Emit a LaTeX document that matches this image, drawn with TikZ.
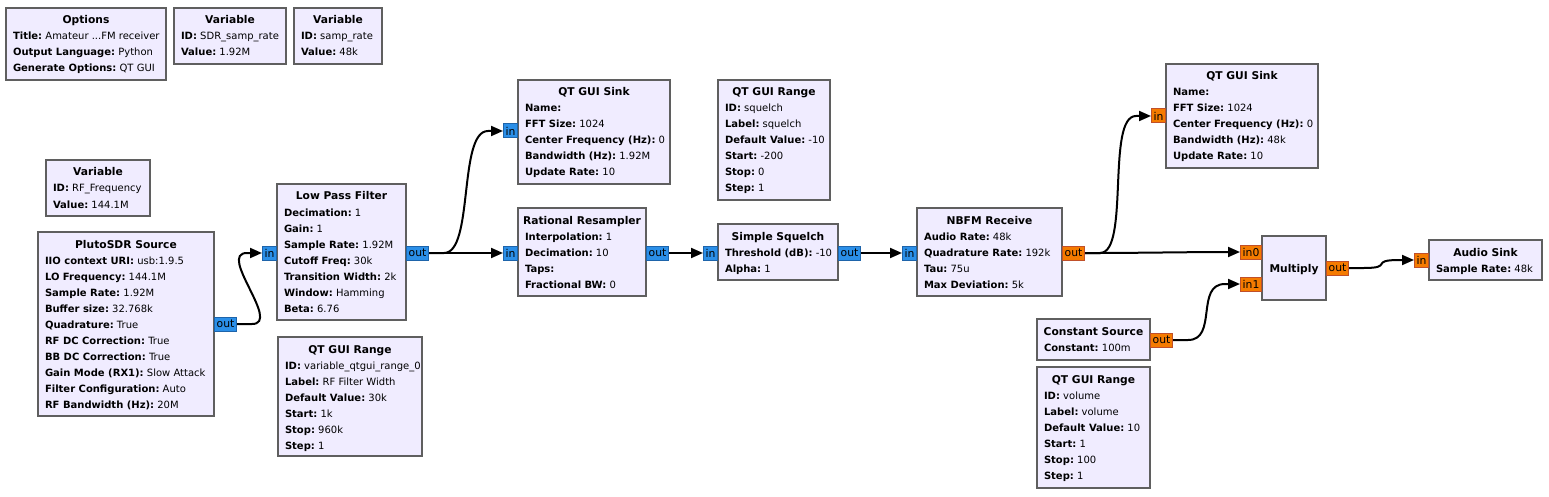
\documentclass[tikz,border=0pt]{standalone}
\usepackage{fontspec}
\setmainfont{DejaVu Sans}
\usetikzlibrary{arrows.meta,calc}
\definecolor{blkfill}{HTML}{F0ECFF}
\definecolor{blkdraw}{HTML}{5F5F5F}
\definecolor{cfill}{HTML}{2B8FE8}
\definecolor{cdraw}{HTML}{1E64AA}
\definecolor{ffill}{HTML}{F57B00}
\definecolor{fdraw}{HTML}{C0502A}
\newcommand\grcfont{\fontsize{10}{16}\selectfont\frenchspacing}
\newcommand\grcportfont{\fontsize{10.8}{16}\selectfont}
\newcommand\grctitlefont{\fontsize{10.7}{16}\selectfont\bfseries\frenchspacing}
\tikzset{
  blk/.style={draw=blkdraw, fill=blkfill, line width=2pt, rectangle, inner sep=0pt, outer sep=0pt},
  txt/.style={inner sep=0pt, outer sep=0pt, font=\grcfont},
  ttl/.style={inner sep=0pt, outer sep=0pt, font=\grctitlefont},
  cport/.style={draw=cdraw, fill=cfill, line width=1pt, inner sep=0pt, minimum height=14pt, font=\grcportfont},
  fport/.style={draw=fdraw, fill=ffill, line width=1pt, inner sep=0pt, minimum height=14pt, font=\grcportfont},
  wire/.style={line width=2pt, -{Triangle[length=12pt,width=10pt]}},
}
% name, x1, y1, x2, y2, title, lines
\newcommand\grcblock[7]{%
  \node[blk, anchor=north west, minimum width={#4-#2}, minimum height={#5-#3}] (#1) at (#2,#3) {};
  \node[ttl, anchor=base] (#1-title) at ({(#2+#4)/2},{#3+16}) {#6};
  \foreach \lab/\val [count=\i] in {#7} {
    \node[txt, anchor=base west] (#1-\i) at ({#2+7},{#3+16+16*\i}) {\textbf{\lab:} \val};
  }%
}
\newcommand\grcwire[2]{%
  \draw[wire] (#1.east) -- ($(#1.east)+(15,0)$)
    .. controls ($(#1.east)+(45,0)$) and ($(#2.west)+(-45,0)$) ..
    ($(#2.west)+(-15,0)$) -- (#2.west);%
}
\begin{document}
\begin{tikzpicture}[x=1pt,y=-1pt]
\fill[white] (0,0) rectangle (1549,497);
\useasboundingbox (0,0) rectangle (1549,497);

\grcblock{opt}{6}{8}{166}{80}{Options}{{Title}/{Amateur ...FM receiver},{Output Language}/{Python},{Generate Options}/{QT GUI}}
\grcblock{var1}{174}{8}{286}{64}{Variable}{{ID}/{SDR\_samp\_rate},{Value}/{1.92M}}
\grcblock{var2}{294}{8}{382}{64}{Variable}{{ID}/{samp\_rate},{Value}/{48k}}
\grcblock{var3}{46}{160}{150}{216}{Variable}{{ID}/{RF\_Frequency},{Value}/{144.1M}}
\grcblock{pluto}{38}{232}{214}{416}{PlutoSDR Source}{{IIO context URI}/{usb:1.9.5},{LO Frequency}/{144.1M},{Sample Rate}/{1.92M},{Buffer size}/{32.768k},{Quadrature}/{True},{RF DC Correction}/{True},{BB DC Correction}/{True},{Gain Mode (RX1)}/{Slow Attack},{Filter Configuration}/{Auto},{RF Bandwidth (Hz)}/{20M}}
\grcblock{lpf}{277}{184}{406}{320}{Low Pass Filter}{{Decimation}/{1},{Gain}/{1},{Sample Rate}/{1.92M},{Cutoff Freq}/{30k},{Transition Width}/{2k},{Window}/{Hamming},{Beta}/{6.76}}
\grcblock{rng0}{278}{337}{422}{456}{QT GUI Range}{{ID}/{variable\_qtgui\_range\_0},{Label}/{RF Filter Width},{Default Value}/{30k},{Start}/{1k},{Stop}/{960k},{Step}/{1}}
\grcblock{sink1}{518}{80}{670}{184}{QT GUI Sink}{{Name}/{},{FFT Size}/{1024},{Center Frequency (Hz)}/{0},{Bandwidth (Hz)}/{1.92M},{Update Rate}/{10}}
\grcblock{rngsq}{718}{80}{830}{200}{QT GUI Range}{{ID}/{squelch},{Label}/{squelch},{Default Value}/{-10},{Start}/{-200},{Stop}/{0},{Step}/{1}}
\grcblock{rr}{518}{208}{646}{296}{Rational Resampler}{{Interpolation}/{1},{Decimation}/{10},{Taps}/{},{Fractional BW}/{0}}
\grcblock{sq}{718}{224}{838}{280}{Simple Squelch}{{Threshold (dB)}/{-10},{Alpha}/{1}}
\grcblock{nbfm}{917}{208}{1062}{296}{NBFM Receive}{{Audio Rate}/{48k},{Quadrature Rate}/{192k},{Tau}/{75u},{Max Deviation}/{5k}}
\grcblock{sink2}{1166}{64}{1318}{168}{QT GUI Sink}{{Name}/{},{FFT Size}/{1024},{Center Frequency (Hz)}/{0},{Bandwidth (Hz)}/{48k},{Update Rate}/{10}}
\node[blk, anchor=north west, minimum width=64, minimum height=64] (mult) at (1262,236) {};
\node[ttl, anchor=base] (mult-title) at (1294,272) {Multiply};
\grcblock{audio}{1429}{240}{1542}{280}{Audio Sink}{{Sample Rate}/{48k}}
\grcblock{const}{1037}{319}{1150}{360}{Constant Source}{{Constant}/{100m}}
\grcblock{rngvol}{1037}{367}{1150}{488}{QT GUI Range}{{ID}/{volume},{Label}/{volume},{Default Value}/{10},{Start}/{1},{Stop}/{100},{Step}/{1}}

% ports
\node[cport, anchor=west, minimum width=22] (plutoOut) at (214,324) {out};
\node[cport, anchor=east, minimum width=14] (lpfIn) at (277,253) {in};
\node[cport, anchor=west, minimum width=22] (lpfOut) at (406,253) {out};
\node[cport, anchor=east, minimum width=14] (sink1In) at (518,131) {in};
\node[cport, anchor=east, minimum width=14] (rrIn) at (518,253) {in};
\node[cport, anchor=west, minimum width=22] (rrOut) at (646,253) {out};
\node[cport, anchor=east, minimum width=14] (sqIn) at (718,253) {in};
\node[cport, anchor=west, minimum width=22] (sqOut) at (838,253) {out};
\node[cport, anchor=east, minimum width=14] (nbfmIn) at (917,253) {in};
\node[fport, anchor=west, minimum width=22] (nbfmOut) at (1062,253) {out};
\node[fport, anchor=east, minimum width=14] (sink2In) at (1166,116) {in};
\node[fport, anchor=east, minimum width=21] (multIn0) at (1262,252) {in0};
\node[fport, anchor=east, minimum width=21] (multIn1) at (1262,284) {in1};
\node[fport, anchor=west, minimum width=22] (multOut) at (1326,268) {out};
\node[fport, anchor=east, minimum width=14] (audioIn) at (1429,260) {in};
\node[fport, anchor=west, minimum width=22] (constOut) at (1150,340) {out};

% connections
\grcwire{plutoOut}{lpfIn}
\grcwire{lpfOut}{sink1In}
\grcwire{lpfOut}{rrIn}
\grcwire{rrOut}{sqIn}
\grcwire{sqOut}{nbfmIn}
\grcwire{nbfmOut}{sink2In}
\grcwire{nbfmOut}{multIn0}
\grcwire{constOut}{multIn1}
\grcwire{multOut}{audioIn}
\end{tikzpicture}
\end{document}
